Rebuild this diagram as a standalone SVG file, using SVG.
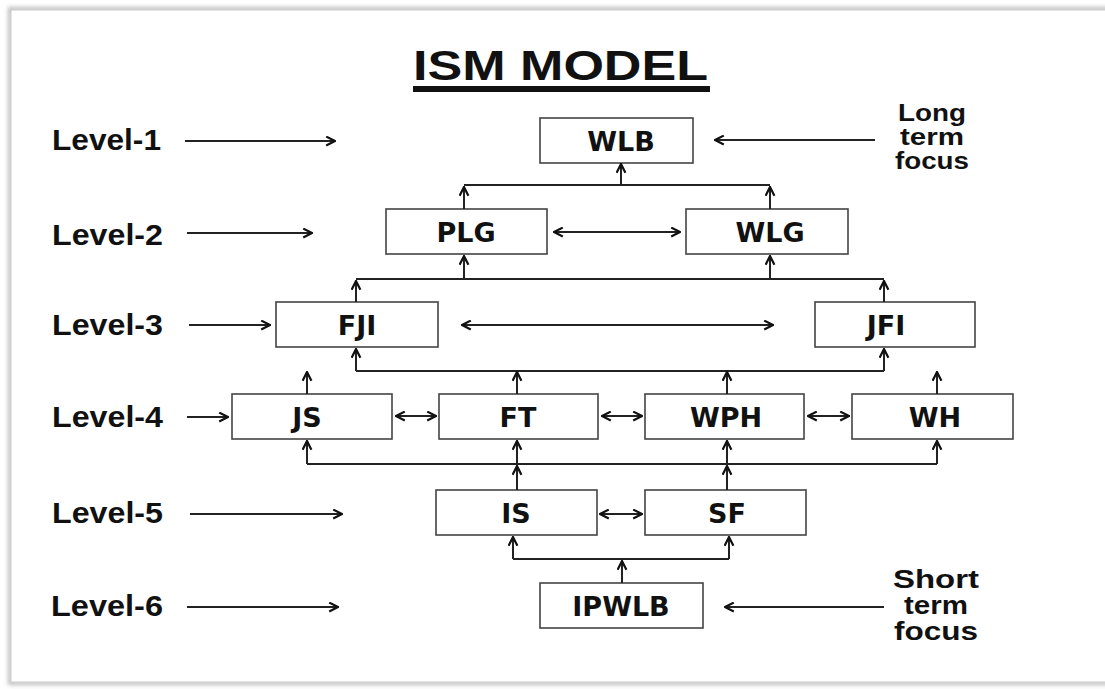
<svg xmlns="http://www.w3.org/2000/svg" width="1105" height="689" viewBox="0 0 1105 689">
<defs>
<marker id="ah" viewBox="0 0 10 10" refX="9" refY="5" markerWidth="11" markerHeight="11" markerUnits="userSpaceOnUse" orient="auto-start-reverse">
<path d="M1,1 L9,5 L1,9" fill="none" stroke="#111" stroke-width="2"/>
</marker>
<filter id="sh" x="-5%" y="-5%" width="110%" height="110%">
<feGaussianBlur stdDeviation="2"/>
</filter>
<style>
.box{fill:#fff;stroke:#444;stroke-width:1.6}
.bt{font-family:"DejaVu Sans",Verdana,sans-serif;font-weight:bold;font-size:27px;fill:#111;text-anchor:middle}
.lv{font-family:"Liberation Sans",Arial,sans-serif;font-weight:bold;font-size:29px;fill:#111}
.ft{font-family:"Liberation Sans",Arial,sans-serif;font-weight:bold;font-size:23px;fill:#111;text-anchor:middle}
.fs{font-family:"Liberation Sans",Arial,sans-serif;font-weight:bold;font-size:25px;fill:#111;text-anchor:middle}
.c{fill:none;stroke:#222;stroke-width:2}
.a{fill:none;stroke:#222;stroke-width:2;marker-end:url(#ah)}
.b{fill:none;stroke:#222;stroke-width:2;marker-end:url(#ah);marker-start:url(#ah)}
</style>
</defs>
<rect width="1105" height="689" fill="#fff"/>
<rect x="10" y="9" width="1110" height="674" fill="none" stroke="#bbb" stroke-width="4" filter="url(#sh)"/>
<rect x="11" y="10" width="1110" height="672" fill="#fff" stroke="#ccc" stroke-width="1"/>

<g id="title">
<text x="413" y="80" font-family="Liberation Sans, Arial, sans-serif" font-weight="bold" font-size="43" fill="#111" textLength="295" lengthAdjust="spacingAndGlyphs">ISM MODEL</text>
<rect x="413" y="86" width="297" height="6" fill="#111"/>
</g>

<g id="levels">
<text class="lv" x="52" y="150" textLength="109" lengthAdjust="spacingAndGlyphs">Level-1</text>
<text class="lv" x="52" y="245" textLength="111" lengthAdjust="spacingAndGlyphs">Level-2</text>
<text class="lv" x="52" y="335" textLength="111" lengthAdjust="spacingAndGlyphs">Level-3</text>
<text class="lv" x="52" y="427" textLength="111" lengthAdjust="spacingAndGlyphs">Level-4</text>
<text class="lv" x="52" y="523" textLength="111" lengthAdjust="spacingAndGlyphs">Level-5</text>
<text class="lv" x="51" y="616" textLength="112" lengthAdjust="spacingAndGlyphs">Level-6</text>
</g>

<g id="focus">
<text class="ft" x="932" y="121" textLength="68" lengthAdjust="spacingAndGlyphs">Long</text>
<text class="ft" x="932" y="145" textLength="64" lengthAdjust="spacingAndGlyphs">term</text>
<text class="ft" x="932" y="169" textLength="74" lengthAdjust="spacingAndGlyphs">focus</text>
<text class="fs" x="936" y="588" textLength="86" lengthAdjust="spacingAndGlyphs">Short</text>
<text class="fs" x="936" y="614" textLength="64" lengthAdjust="spacingAndGlyphs">term</text>
<text class="fs" x="936" y="640" textLength="84" lengthAdjust="spacingAndGlyphs">focus</text>
</g>

<g id="n-WLB"><rect class="box" x="540" y="118" width="153" height="45"/><text class="bt" x="621" y="151">WLB</text></g>
<g id="n-PLG"><rect class="box" x="386" y="209" width="161" height="45"/><text class="bt" x="466" y="242">PLG</text></g>
<g id="n-WLG"><rect class="box" x="686" y="209" width="162" height="45"/><text class="bt" x="770" y="242">WLG</text></g>
<g id="n-FJI"><rect class="box" x="276" y="302" width="162" height="45"/><text class="bt" x="357" y="335">FJI</text></g>
<g id="n-JFI"><rect class="box" x="815" y="302" width="160" height="45"/><text class="bt" x="886" y="335">JFI</text></g>
<g id="n-JS"><rect class="box" x="232" y="394" width="160" height="45"/><text class="bt" x="307" y="427">JS</text></g>
<g id="n-FT"><rect class="box" x="439" y="394" width="159" height="45"/><text class="bt" x="518" y="427">FT</text></g>
<g id="n-WPH"><rect class="box" x="645" y="394" width="159" height="45"/><text class="bt" x="726" y="427">WPH</text></g>
<g id="n-WH"><rect class="box" x="852" y="394" width="161" height="45"/><text class="bt" x="935" y="427">WH</text></g>
<g id="n-IS"><rect class="box" x="436" y="490" width="161" height="45"/><text class="bt" x="516" y="523">IS</text></g>
<g id="n-SF"><rect class="box" x="645" y="490" width="161" height="45"/><text class="bt" x="727" y="523">SF</text></g>
<g id="n-IPWLB"><rect class="box" x="540" y="583" width="163" height="45"/><text class="bt" x="621" y="616">IPWLB</text></g>

<g id="connectors">
<line class="a" x1="185" y1="141" x2="335" y2="141"/>
<line class="a" x1="187" y1="233" x2="312" y2="233"/>
<line class="a" x1="189" y1="325" x2="270" y2="325"/>
<line class="a" x1="187" y1="417" x2="228" y2="417"/>
<line class="a" x1="190" y1="514" x2="342" y2="514"/>
<line class="a" x1="187" y1="607" x2="338" y2="607"/>
<line class="a" x1="875" y1="140" x2="715" y2="140"/>
<line class="a" x1="884" y1="607" x2="725" y2="607"/>
<line class="c" x1="464" y1="185" x2="770" y2="185"/>
<line class="a" x1="621" y1="185" x2="621" y2="164"/>
<line class="a" x1="464" y1="209" x2="464" y2="187"/>
<line class="a" x1="770" y1="209" x2="770" y2="187"/>
<line class="b" x1="554" y1="232" x2="680" y2="232"/>
<line class="c" x1="356" y1="279" x2="884" y2="279"/>
<line class="a" x1="464" y1="279" x2="464" y2="256"/>
<line class="a" x1="770" y1="279" x2="770" y2="256"/>
<line class="a" x1="356" y1="302" x2="356" y2="281"/>
<line class="a" x1="884" y1="302" x2="884" y2="281"/>
<line class="b" x1="462" y1="325" x2="773" y2="325"/>
<line class="c" x1="356" y1="371" x2="884" y2="371"/>
<line class="a" x1="356" y1="371" x2="356" y2="349"/>
<line class="a" x1="884" y1="371" x2="884" y2="349"/>
<line class="a" x1="517" y1="394" x2="517" y2="372"/>
<line class="a" x1="727" y1="394" x2="727" y2="372"/>
<line class="a" x1="307" y1="394" x2="307" y2="372"/>
<line class="a" x1="937" y1="394" x2="937" y2="372"/>
<line class="b" x1="396" y1="416" x2="436" y2="416"/>
<line class="b" x1="602" y1="416" x2="642" y2="416"/>
<line class="b" x1="808" y1="416" x2="849" y2="416"/>
<line class="c" x1="307" y1="464" x2="937" y2="464"/>
<line class="a" x1="307" y1="464" x2="307" y2="441"/>
<line class="a" x1="517" y1="464" x2="517" y2="441"/>
<line class="a" x1="727" y1="464" x2="727" y2="441"/>
<line class="a" x1="937" y1="464" x2="937" y2="441"/>
<line class="a" x1="517" y1="490" x2="517" y2="466"/>
<line class="a" x1="727" y1="490" x2="727" y2="466"/>
<line class="b" x1="600" y1="514" x2="642" y2="514"/>
<line class="c" x1="513" y1="559" x2="729" y2="559"/>
<line class="a" x1="513" y1="559" x2="513" y2="537"/>
<line class="a" x1="729" y1="559" x2="729" y2="537"/>
<line class="a" x1="622" y1="583" x2="622" y2="561"/>
</g>
</svg>
